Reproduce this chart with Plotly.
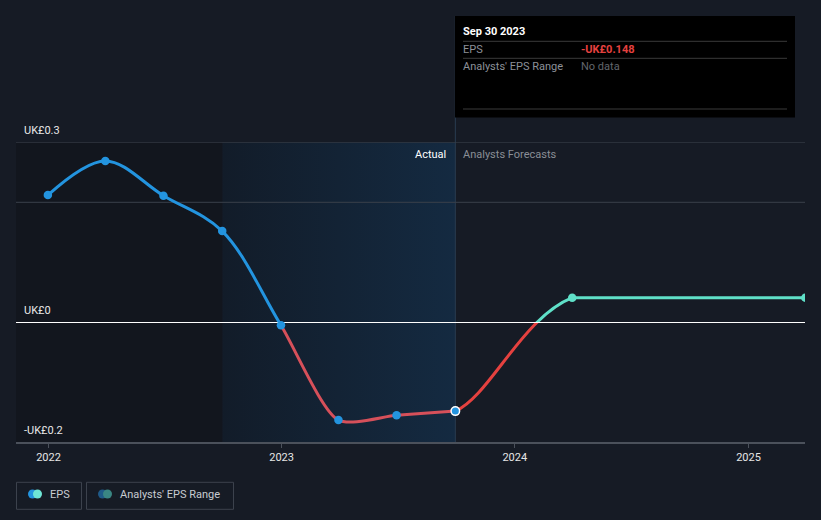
import base64
import pandas as pd
import plotly.graph_objects as go

# ---------------- data ----------------
ACTUAL_DATES = ["2021-12-31", "2022-03-31", "2022-06-30", "2022-09-30",
                "2022-12-31", "2023-03-31", "2023-06-30", "2023-09-30"]
ACTUAL_EPS = [0.212, 0.269, 0.211, 0.152, -0.005, -0.163, -0.155, -0.148]
FORECAST_DATES = ["2024-03-31", "2025-03-31"]
FORECAST_EPS = [0.041, 0.041]

Y_TICK_VALUES = [-0.2, 0, 0.3]
Y_TICK_LABELS = ["-UK£0.2", "UK£0", "UK£0.3"]
Y_GRID_VALUES = [0.3, 0.2]
Y_RANGE = [-0.2, 0.3]
X_TICK_VALUES = ["2022-01-01", "2023-01-01", "2024-01-01", "2025-01-01"]
X_TICK_LABELS = ["2022", "2023", "2024", "2025"]

# ---------------- layout constants ----------------
W, H = 821, 520
PLOT_L, PLOT_R = 16, 805
PLOT_T, PLOT_B = 142.3, 442.3
T0 = pd.Timestamp("2022-01-01")
T0_PX = 48.5
PX_PER_DAY = 700.0 / 1096.0

BG = "#161b25"
PAST_BG = "#12161e"
BLUE = "#2394df"
RED_A = "#d6505a"
RED_F = "#e5413f"
TEAL = "#5fe0c8"
GRID_C = "#3a404a"
AXIS_C = "#4b515b"
FONT = "Roboto, sans-serif"


def px_to_date(px):
    return T0 + pd.Timedelta(days=(px - T0_PX) / PX_PER_DAY)


def date_to_px(d):
    return T0_PX + (pd.Timestamp(d) - T0) / pd.Timedelta(days=1) * PX_PER_DAY


def fx(px):
    return px / W


def fy(py):
    return 1 - py / H


def dstr(ts):
    return ts.strftime("%Y-%m-%d %H:%M:%S")


x_range = [dstr(px_to_date(PLOT_L)), dstr(px_to_date(PLOT_R))]
yb, yt = fy(PLOT_B), fy(PLOT_T)
y_zero = yb + (0 - Y_RANGE[0]) / (Y_RANGE[1] - Y_RANGE[0]) * (yt - yb)

last_actual = pd.Timestamp(ACTUAL_DATES[-1])
region_start = last_actual - pd.DateOffset(years=1)
x2_domain = [fx(date_to_px(ACTUAL_DATES[-1])), fx(date_to_px(FORECAST_DATES[0]))]

fig = go.Figure()

# flat forecast segment (subplot xy, also carries axes)
fig.add_trace(go.Scatter(x=FORECAST_DATES, y=FORECAST_EPS, xaxis="x", yaxis="y",
                         mode="lines", line=dict(color=TEAL, width=3), hoverinfo="skip"))
# actual curve: positive part (blue) and negative part (red)
for yax, col, sm in (("y2", BLUE, 1.0), ("y3", RED_A, 0.7)):
    fig.add_trace(go.Scatter(x=ACTUAL_DATES, y=ACTUAL_EPS, xaxis="x", yaxis=yax,
                             mode="lines",
                             line=dict(color=col, width=3, shape="spline", smoothing=sm,
                                       simplify=False),
                             hoverinfo="skip"))
# forecast rise: positive (teal) and negative (red), clipped between last actual and first forecast
rise_x = ACTUAL_DATES[-2:] + FORECAST_DATES
rise_y = ACTUAL_EPS[-2:] + FORECAST_EPS
for yax, col in (("y2", TEAL), ("y3", RED_F)):
    fig.add_trace(go.Scatter(x=rise_x, y=rise_y, xaxis="x2", yaxis=yax, mode="lines",
                             line=dict(color=col, width=3, shape="spline", smoothing=1,
                                       simplify=False),
                             hoverinfo="skip"))
# markers on top
lw = [0] * (len(ACTUAL_EPS) - 1) + [1.5]
fig.add_trace(go.Scatter(x=ACTUAL_DATES, y=ACTUAL_EPS, xaxis="x3", yaxis="y", mode="markers",
                         marker=dict(size=8.5, color=BLUE, line=dict(color="white", width=lw)),
                         hoverinfo="skip"))
fig.add_trace(go.Scatter(x=FORECAST_DATES, y=FORECAST_EPS, xaxis="x3", yaxis="y", mode="markers",
                         marker=dict(size=8.5, color=TEAL), hoverinfo="skip"))

# ---------------- background regions ----------------
svg = ('<svg xmlns="http://www.w3.org/2000/svg" width="100" height="100" viewBox="0 0 100 100" '
       'preserveAspectRatio="none"><defs><linearGradient id="g" x1="0" y1="0" x2="1" y2="0">'
       '<stop offset="0" stop-color="#121c29"/><stop offset="1" stop-color="#142a41"/>'
       '</linearGradient></defs><rect width="100" height="100" fill="url(#g)"/></svg>')
src = "data:image/svg+xml;base64," + base64.b64encode(svg.encode()).decode()
img_x0 = fx(date_to_px(region_start))
img_x1 = fx(date_to_px(last_actual))
images = [dict(source=src, xref="paper", yref="paper", x=img_x0, y=yt,
               sizex=img_x1 - img_x0, sizey=yt - yb, sizing="stretch",
               xanchor="left", yanchor="top", layer="below")]

shapes = [
    dict(type="rect", xref="x", yref="paper", x0=x_range[0], x1=dstr(region_start),
         y0=yb, y1=yt, fillcolor=PAST_BG, line_width=0, layer="below"),
    dict(type="line", xref="x", yref="paper", x0=ACTUAL_DATES[-1], x1=ACTUAL_DATES[-1],
         y0=yb, y1=fy(16), line=dict(color="#2a3d51", width=1), layer="below"),
]
for gv in Y_GRID_VALUES:
    shapes.append(dict(type="line", xref="paper", yref="y", x0=fx(PLOT_L), x1=fx(PLOT_R),
                       y0=gv, y1=gv, line=dict(color=GRID_C, width=1), layer="below"))

annotations = []


def ann(text, x, y, color, size=11, xanchor="left", xref="paper", yref="paper",
        xshift=0, yshift=0):
    annotations.append(dict(text=text, x=x, y=y, xref=xref, yref=yref, xanchor=xanchor,
                            yanchor="middle", showarrow=False, xshift=xshift, yshift=yshift,
                            font=dict(family=FONT, size=size, color=color)))


# y tick labels (above their gridlines)
for v, t in zip(Y_TICK_VALUES, Y_TICK_LABELS):
    ann(t, fx(22), v, "#e8e8e8", yref="y", yshift=12)

# Actual / Analysts Forecasts
ann("Actual", ACTUAL_DATES[-1], fy(154.3), "#ffffff", xanchor="right", xref="x", xshift=-7)
ann("Analysts Forecasts", ACTUAL_DATES[-1], fy(154.3), "#8a8e96", xanchor="left", xref="x",
    xshift=6)

# ---------------- tooltip ----------------
shapes.append(dict(type="rect", xref="paper", yref="paper", x0=fx(455), x1=fx(795),
                   y0=fy(117.5), y1=fy(16), fillcolor="#000000", line_width=0, layer="above"))
for py in (41.3, 58.3, 109):
    shapes.append(dict(type="line", xref="paper", yref="paper", x0=fx(463), x1=fx(787),
                       y0=fy(py), y1=fy(py), line=dict(color="#3a3a3a", width=1),
                       layer="above"))
eps_last = ACTUAL_EPS[-1]
eps_txt = ("-" if eps_last < 0 else "") + f"UK£{abs(eps_last):.3f}"
ann("<b>" + last_actual.strftime("%b %d %Y") + "</b>", fx(461), fy(31), "#ffffff")
ann("EPS", fx(461), fy(49.5), "#8c9098")
ann("<b>" + eps_txt + "</b>", fx(579), fy(49.5), RED_F)
ann("Analysts' EPS Range", fx(461), fy(66), "#8c9098")
ann("No data", fx(579), fy(66), "#62666d")

# ---------------- legend ----------------
for x0, x1 in ((16.5, 81.5), (86.5, 233.5)):
    shapes.append(dict(type="rect", xref="paper", yref="paper", x0=fx(x0), x1=fx(x1),
                       y0=fy(509.3), y1=fy(482.3), line=dict(color="#3c424d", width=1),
                       fillcolor="rgba(0,0,0,0)", layer="above"))
for cx, col in ((32.5, BLUE), (37.5, "#6ee6d6"), (102.5, "#1f5a88"), (107.5, "#3a8683")):
    shapes.append(dict(type="circle", xref="paper", yref="paper", x0=fx(cx - 4.5),
                       x1=fx(cx + 4.5), y0=fy(494 + 4.5), y1=fy(494 - 4.5),
                       fillcolor=col, line_width=0, layer="above"))
ann("EPS", fx(48), fy(494.5), "#c8ccd2", size=11)
ann("Analysts' EPS Range", fx(118), fy(494.5), "#c8ccd2", size=11)

fig.update_layout(
    width=W, height=H, margin=dict(l=0, r=0, t=0, b=0),
    paper_bgcolor=BG, plot_bgcolor="rgba(0,0,0,0)",
    showlegend=False, hovermode=False,
    font=dict(family=FONT, size=11, color="#e8e8e8"),
    xaxis=dict(domain=[fx(PLOT_L), fx(PLOT_R)], range=x_range, type="date",
               tickvals=X_TICK_VALUES, ticktext=X_TICK_LABELS, ticks="outside", ticklen=4,
               tickcolor=AXIS_C, showline=True, linecolor=AXIS_C, linewidth=1.5,
               showgrid=False, zeroline=False, anchor="y", fixedrange=True,
               tickfont=dict(family=FONT, size=11, color="#e6e6e6")),
    xaxis2=dict(domain=x2_domain, range=[ACTUAL_DATES[-1], FORECAST_DATES[0]], type="date",
                visible=False, anchor="y", fixedrange=True),
    xaxis3=dict(domain=[fx(PLOT_L), fx(PLOT_R)], range=x_range, type="date",
                visible=False, anchor="y", fixedrange=True),
    yaxis=dict(domain=[yb, yt], range=Y_RANGE, tickvals=Y_TICK_VALUES, showticklabels=False,
               ticks="", showgrid=False,
               zeroline=True, zerolinecolor="#ffffff", zerolinewidth=1, showline=False,
               anchor="x", fixedrange=True),
    yaxis2=dict(domain=[y_zero, yt], range=[0, Y_RANGE[1]], visible=False, anchor="x",
                fixedrange=True),
    yaxis3=dict(domain=[yb, y_zero], range=[Y_RANGE[0], 0], visible=False, anchor="x",
                fixedrange=True),
    shapes=shapes, annotations=annotations, images=images,
)

fig.write_html("out.html", config={"displayModeBar": False},
               post_script="document.body.style.margin='0';")
